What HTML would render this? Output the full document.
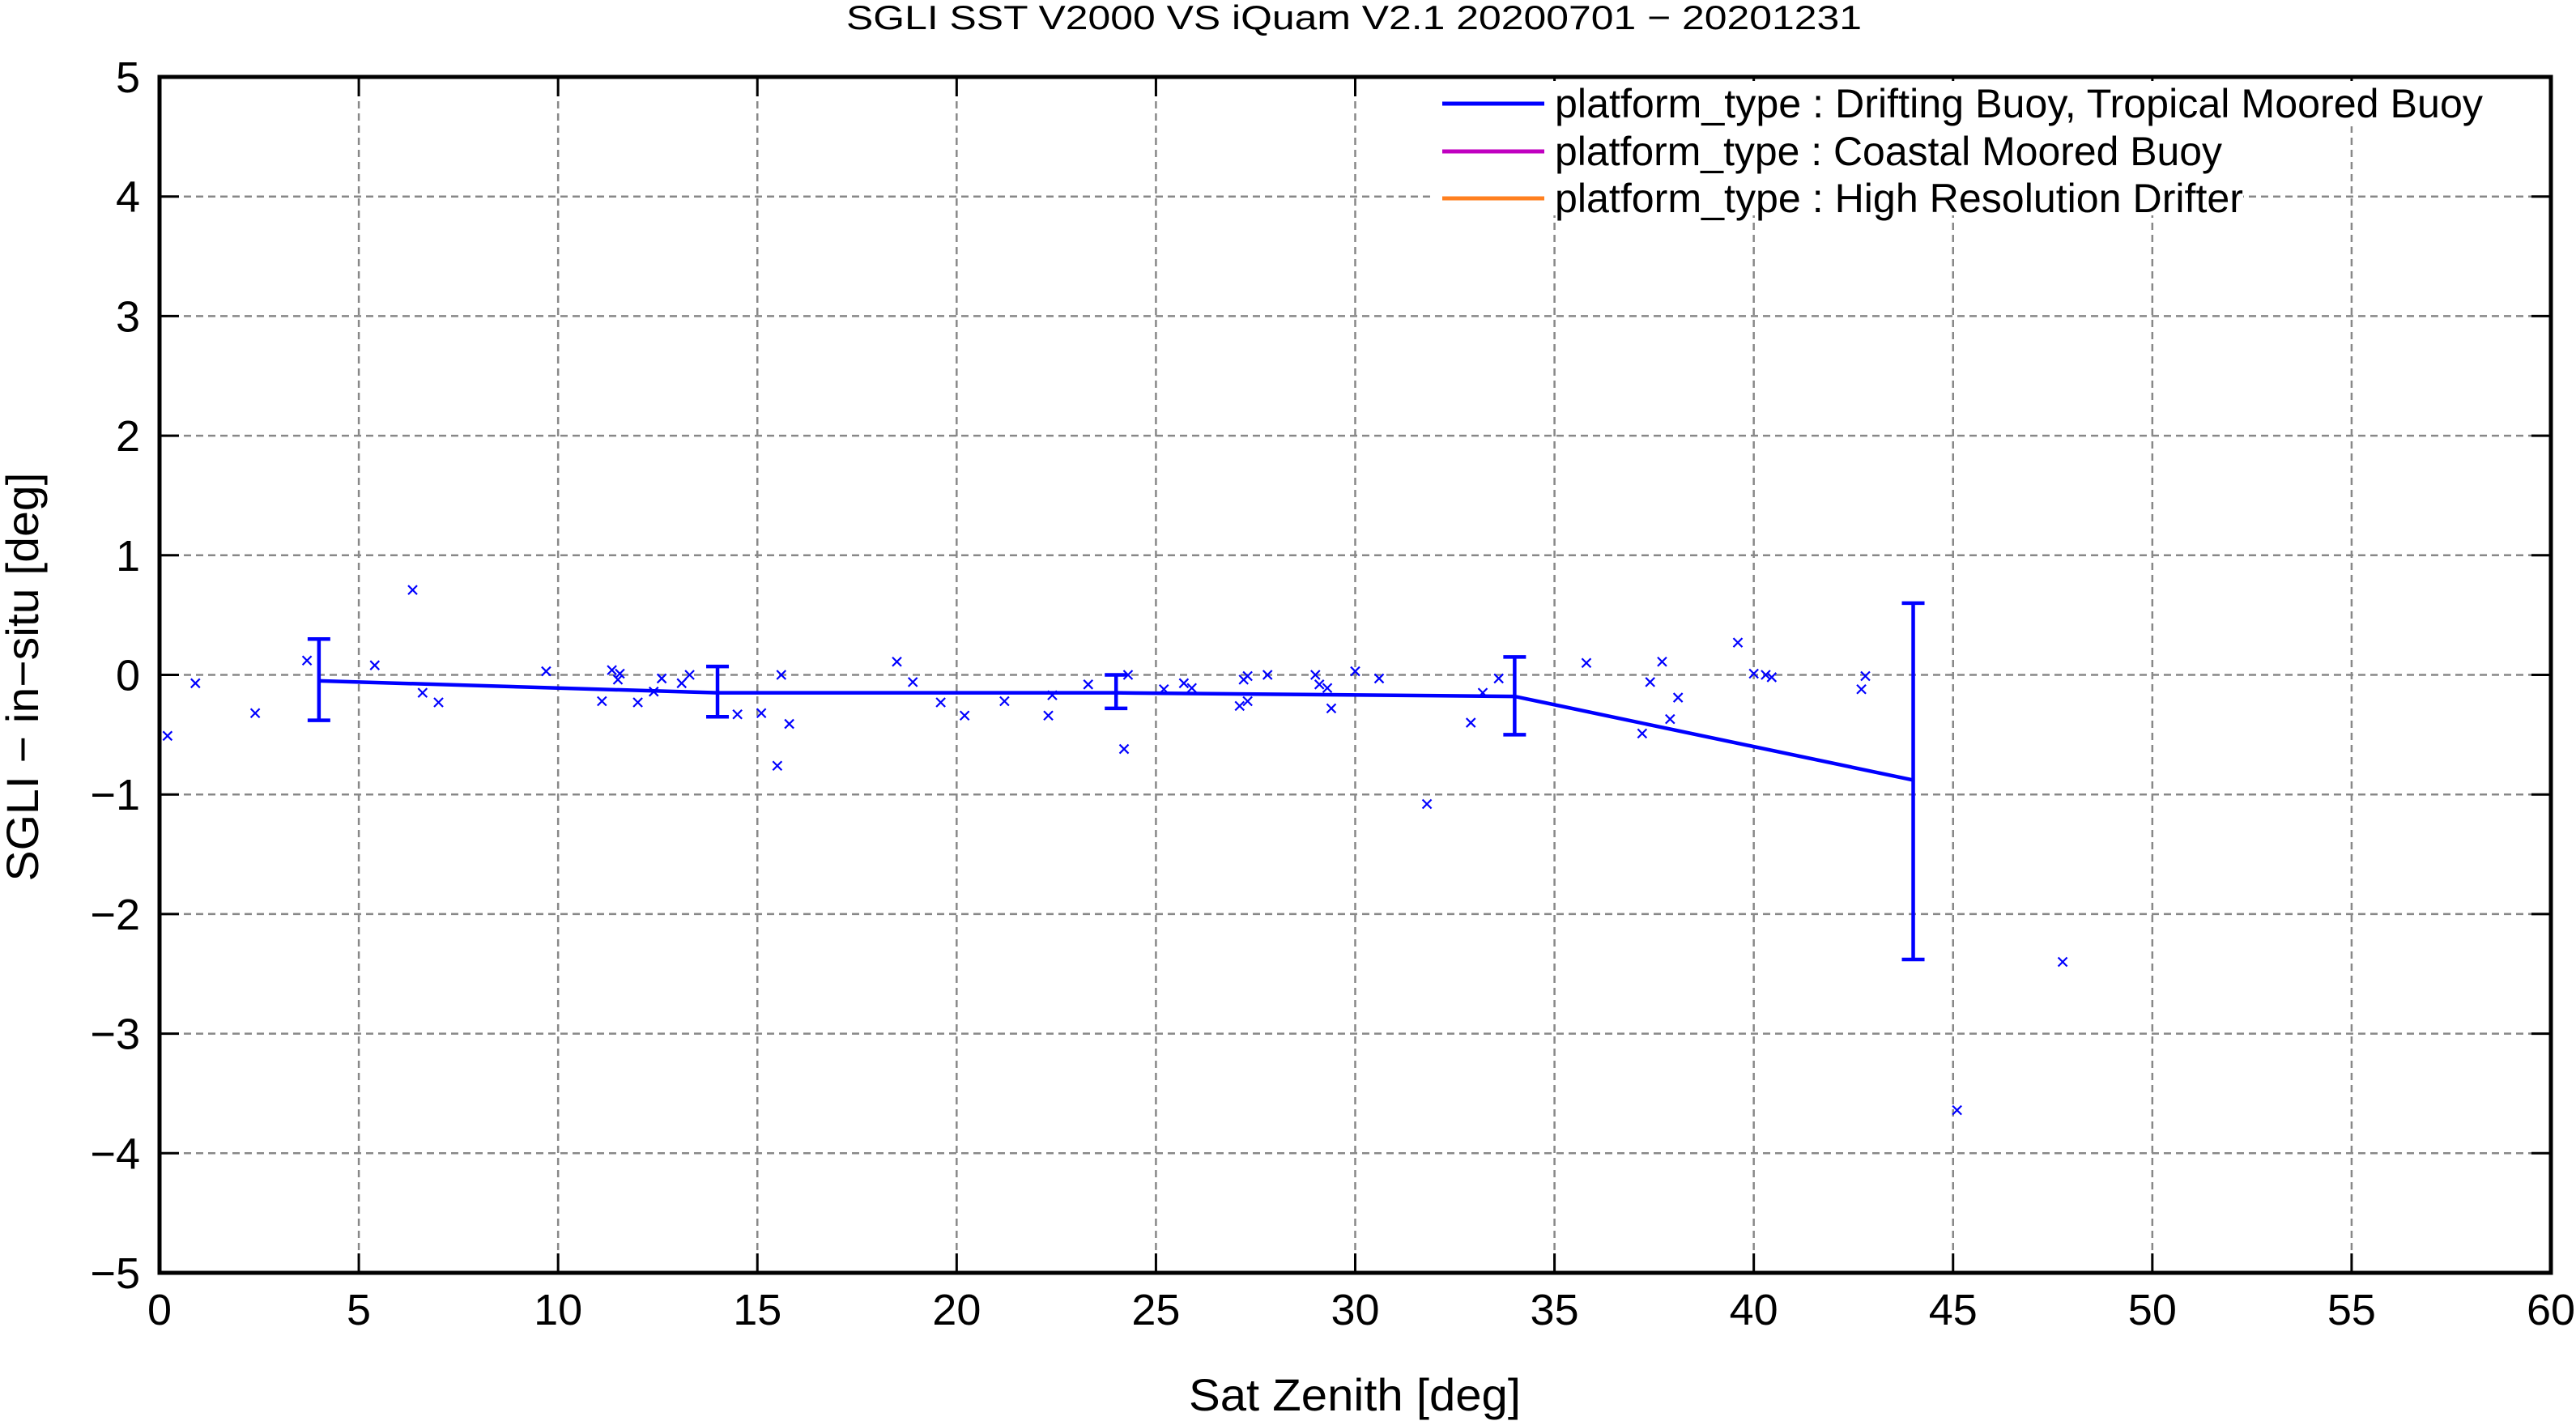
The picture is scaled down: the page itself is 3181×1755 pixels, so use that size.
<!DOCTYPE html>
<html><head><meta charset="utf-8"><style>
html,body{margin:0;padding:0;background:#fff}
svg{display:block;font-family:"Liberation Sans",sans-serif}
</style></head><body>
<svg id="chart" width="3181" height="1755" viewBox="0 0 3181 1755" xmlns="http://www.w3.org/2000/svg">
<text x="1672" y="36" font-size="42" text-anchor="middle" textLength="1254" lengthAdjust="spacingAndGlyphs">SGLI SST V2000 VS iQuam V2.1 20200701 − 20201231</text>
<g id="grid"></g>
<g id="axes"></g>
<g id="series"></g>
<g>
<rect x="1770" y="100" width="1300" height="56" fill="#fff"/>
<rect x="1770" y="156" width="990" height="58" fill="#fff"/>
<rect x="1770" y="214" width="1000" height="52" fill="#fff"/>
<line x1="1781" y1="128" x2="1907" y2="128" stroke="#0000ff" stroke-width="5"/>
<text x="1920" y="145" font-size="50" textLength="1146" lengthAdjust="spacingAndGlyphs">platform_type : Drifting Buoy, Tropical Moored Buoy</text>
<line x1="1781" y1="187" x2="1907" y2="187" stroke="#c000c0" stroke-width="5"/>
<text x="1920" y="204" font-size="50" textLength="824" lengthAdjust="spacingAndGlyphs">platform_type : Coastal Moored Buoy</text>
<line x1="1781" y1="245" x2="1907" y2="245" stroke="#ff8020" stroke-width="5"/>
<text x="1920" y="262" font-size="50" textLength="850" lengthAdjust="spacingAndGlyphs">platform_type : High Resolution Drifter</text>
</g>
<text x="1673" y="1742" font-size="56" text-anchor="middle" textLength="410" lengthAdjust="spacingAndGlyphs">Sat Zenith [deg]</text>
<text transform="translate(47,836) rotate(-90)" font-size="56" text-anchor="middle" textLength="505" lengthAdjust="spacingAndGlyphs">SGLI − in−situ [deg]</text>
</svg>
<script>
const xTicks = [0,5,10,15,20,25,30,35,40,45,50,55,60];
const yTicks = [-5,-4,-3,-2,-1,0,1,2,3,4,5];
const binX = [4,14,24,34,44];
const binMean = [-0.05,-0.15,-0.15,-0.18,-0.88];
const binHigh = [0.30,0.07,0.00,0.15,0.60];
const binLow = [-0.38,-0.35,-0.28,-0.50,-2.38];
const ptX = [0.2,0.9,2.4,3.7,5.4,6.35,6.6,7.0,9.7,11.1,11.35,11.5,11.55,12.0,12.4,12.6,13.1,13.3,14.5,15.1,15.5,15.6,15.8,18.5,18.9,19.6,20.2,21.2,22.3,22.4,23.3,24.2,24.3,25.2,25.7,25.9,27.1,27.2,27.3,27.3,27.8,29.0,29.1,29.3,29.4,30.0,30.6,31.8,32.9,33.2,33.6,35.8,37.2,37.4,37.7,37.9,38.1,39.6,40.0,40.3,40.45,42.7,42.8,45.1,47.75];
const ptY = [-0.51,-0.07,-0.32,0.12,0.08,0.71,-0.15,-0.23,0.03,-0.22,0.04,-0.04,0.01,-0.23,-0.14,-0.03,-0.07,0.0,-0.33,-0.32,-0.76,0.0,-0.41,0.11,-0.06,-0.23,-0.34,-0.22,-0.34,-0.17,-0.08,-0.62,0.0,-0.12,-0.07,-0.11,-0.26,-0.04,-0.22,-0.01,0.0,0.0,-0.08,-0.11,-0.28,0.03,-0.03,-1.08,-0.4,-0.15,-0.03,0.1,-0.49,-0.06,0.11,-0.37,-0.19,0.27,0.01,0.0,-0.02,-0.12,-0.01,-3.64,-2.4];

const L=197,R=3150,T=95,B=1572;
const X=v=>L+(v-0)/(60-0)*(R-L);
const Y=v=>B-(v+5)/10*(B-T);
const NS='http://www.w3.org/2000/svg';
function mk(tag,attrs,parent){const e=document.createElementNS(NS,tag);for(const k in attrs)e.setAttribute(k,attrs[k]);parent.appendChild(e);return e;}
const grid=document.getElementById('grid'),axes=document.getElementById('axes'),ser=document.getElementById('series');
xTicks.forEach(t=>{
  if(t>0&&t<60){const g=mk('line',{x1:X(t),x2:X(t),y1:T,y2:B,stroke:'#888','stroke-width':2.5,'stroke-dasharray':'9,6'},grid);
  
  }
  const tk=mk('line',{x1:X(t),x2:X(t),y1:B,y2:B-24,stroke:'#000','stroke-width':3},axes);
  
  
  const tk2=mk('line',{x1:X(t),x2:X(t),y1:T,y2:T+24,stroke:'#000','stroke-width':3},axes);
  
  
  const lb=mk('text',{x:X(t),y:B+64,'font-size':54,'text-anchor':'middle'},axes);lb.textContent=t;
  
  
});
yTicks.forEach(t=>{
  if(t>-5&&t<5){const g=mk('line',{x1:L,x2:R,y1:Y(t),y2:Y(t),stroke:'#888','stroke-width':2.5,'stroke-dasharray':'9,6'},grid);
  
  }
  const tk=mk('line',{x1:L,x2:L+24,y1:Y(t),y2:Y(t),stroke:'#000','stroke-width':3},axes);
  
  
  const tk2=mk('line',{x1:R,x2:R-24,y1:Y(t),y2:Y(t),stroke:'#000','stroke-width':3},axes);
  
  
  const lb=mk('text',{x:L-24,y:Y(t)+19,'font-size':54,'text-anchor':'end'},axes);lb.textContent=(t<0?'−'+(-t):t);
  
  
});
const frame=mk('rect',{x:L,y:T,width:R-L,height:B-T,fill:'none',stroke:'#000','stroke-width':5},axes);


ptX.forEach((v,i)=>{
  const cx=X(v),cy=Y(ptY[i]),s=5.5;
  const p=mk('path',{d:`M${cx-s},${cy-s}L${cx+s},${cy+s}M${cx-s},${cy+s}L${cx+s},${cy-s}`,stroke:'#0000ff','stroke-width':2.2,fill:'none'},ser);
  
  
});
const ml=mk('polyline',{points:binX.map((v,i)=>X(v)+','+Y(binMean[i])).join(' '),fill:'none',stroke:'#0000ff','stroke-width':4.5},ser);


binX.forEach((v,i)=>{
  const x=X(v),h=Y(binHigh[i]),l=Y(binLow[i]),c=14;
  const e=mk('path',{d:`M${x},${h}L${x},${l}M${x-c},${h}L${x+c},${h}M${x-c},${l}L${x+c},${l}`,stroke:'#0000ff','stroke-width':4.5,fill:'none'},ser);
  
  
});
</script>
</body></html>
